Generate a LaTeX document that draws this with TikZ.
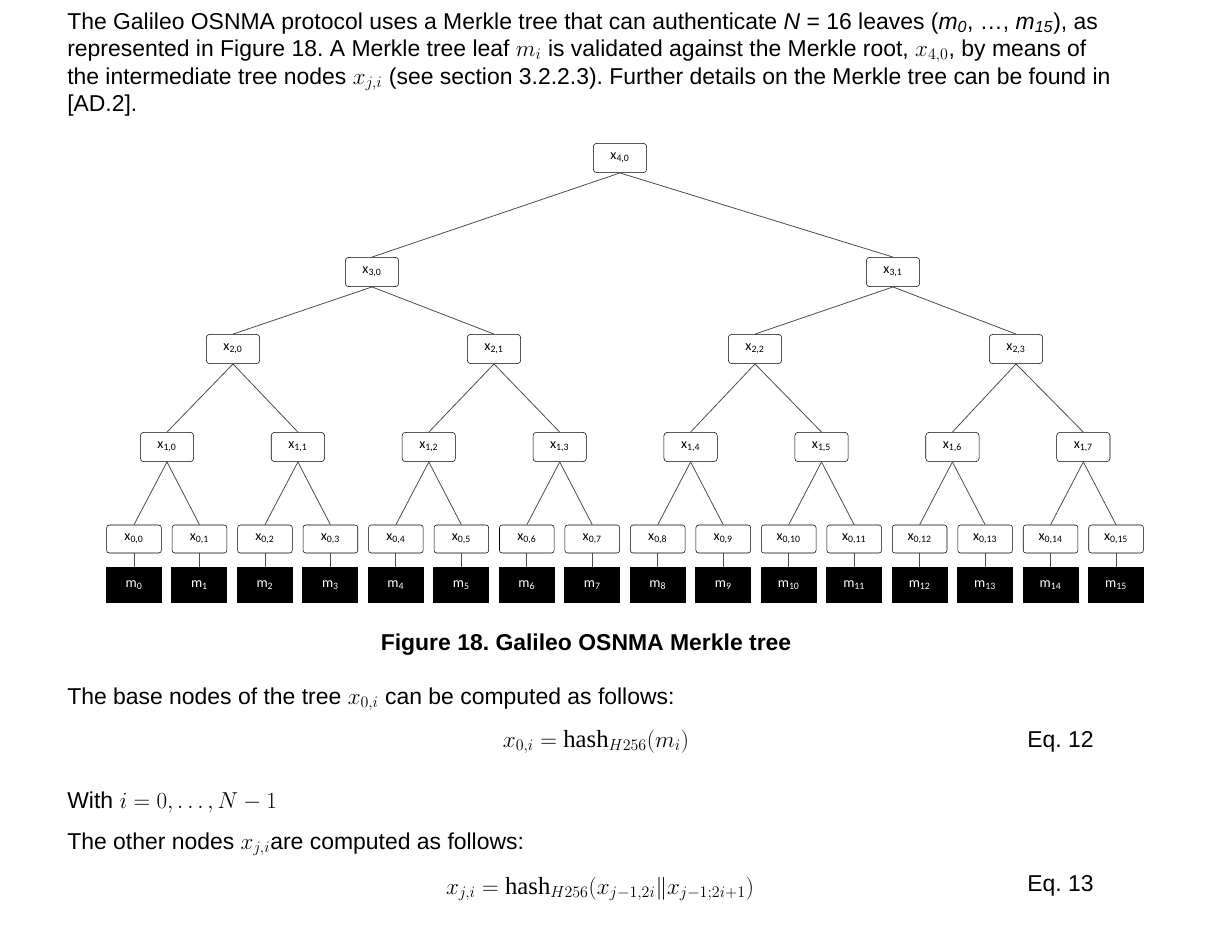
\documentclass[tikz,border=0pt]{standalone}
\usepackage{fontspec}
\setmainfont{Liberation Sans}
\newfontfamily\calfnt{Carlito}
\newfontfamily\serfnt{Liberation Serif}
\newcommand{\hsh}{\text{\serfnt hash}}
\usepackage{amsmath}
\begin{document}
\frenchspacing
\begin{tikzpicture}[x=0.75pt,y=-0.75pt,
  tn/.style={draw,rounded corners=2.5pt,fill=white,minimum width=40pt,minimum height=22pt,font=\calfnt\fontsize{10.5}{12}\selectfont,inner sep=1pt},
  ln/.style={draw,fill=white,rounded corners=2pt,minimum width=41pt,minimum height=21pt,font=\calfnt\fontsize{10.5}{12}\selectfont,inner sep=1pt},
  mn/.style={fill=black,text=white,minimum width=42pt,minimum height=27pt,font=\calfnt\fontsize{10.5}{12}\selectfont,inner sep=1pt},
  ed/.style={draw=black!70,line width=0.6pt},
  txt/.style={anchor=base west,font=\fontsize{17.2}{20}\selectfont,inner sep=0pt},
  eq/.style={anchor=base,font=\fontsize{18.5}{22}\selectfont,inner sep=0pt}]
\useasboundingbox (0,0) rectangle (1219,926);
\node[txt] (p1) at (67,29) {The Galileo OSNMA protocol uses a Merkle tree that can authenticate \textit{N} = 16 leaves (\textit{m\textsubscript{0}}, \dots, \textit{m\textsubscript{15}}), as};
\node[txt] (p2) at (67,56) {represented in Figure 18. A Merkle tree leaf $m_i$ is validated against the Merkle root, $x_{4,0}$, by means of};
\node[txt] (p3) at (67,84) {the intermediate tree nodes $x_{j,i}$ (see section 3.2.2.3). Further details on the Merkle tree can be found in};
\node[txt] (p4) at (67,111) {[AD.2].};
% tree
\node[tn] (r) at (620,158) {x\textsubscript{4,0}};
\node[tn] (a0) at (372,272) {x\textsubscript{3,0}};
\node[tn] (a1) at (893,272) {x\textsubscript{3,1}};
\foreach \i/\x in {0/233,1/494,2/755,3/1016} \node[tn] (b\i) at (\x,349) {x\textsubscript{2,\i}};
\foreach \i in {0,...,7} \node[tn] (c\i) at ({167+130.9*\i},447) {x\textsubscript{1,\i}};
\foreach \i in {0,...,15} {
  \node[ln] (d\i) at ({134+65.47*\i},539) {x\textsubscript{0,\i}};
  \node[mn] (m\i) at ({134+65.47*\i},585) {m\textsubscript{\i}};
  \draw[ed] (d\i) -- (m\i);
}
\draw[ed] (r.south) -- (a0.north) (r.south) -- (a1.north);
\draw[ed] (a0.south) -- (b0.north) (a0.south) -- (b1.north) (a1.south) -- (b2.north) (a1.south) -- (b3.north);
\foreach \i [evaluate=\i as \p using int(floor(\i/2))] in {0,...,7} \draw[ed] (b\p.south) -- (c\i.north);
\foreach \i [evaluate=\i as \p using int(floor(\i/2))] in {0,...,15} \draw[ed] (c\p.south) -- (d\i.north);
\node[anchor=base,font=\bfseries\fontsize{17.2}{20}\selectfont,inner sep=0pt] (cap) at (586,650) {Figure 18. Galileo OSNMA Merkle tree};
\node[txt] (t1) at (67,704) {The base nodes of the tree $x_{0,i}$ can be computed as follows:};
\node[eq] (e1) at (596,747) {$x_{0,i} = \hsh_{H256}(m_i)$};
\node[txt] (q1) at (1027,747) {Eq. 12};
\node[txt] (t2) at (67,808) {With $i=0,\dots,N-1$};
\node[txt] (t3) at (67,849) {The other nodes $x_{j,i}$are computed as follows:};
\node[eq] (e2) at (600,894) {$x_{j,i} = \hsh_{H256}(x_{j-1,2i}\|x_{j-1;2i+1})$};
\node[txt] (q2) at (1027,891) {Eq. 13};
\end{tikzpicture}
\end{document}
